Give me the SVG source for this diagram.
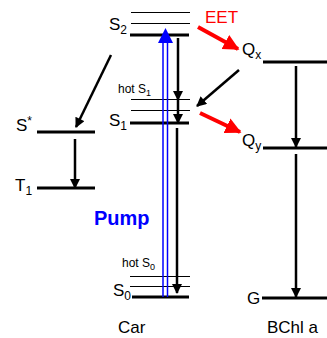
<svg xmlns="http://www.w3.org/2000/svg" width="327" height="338" viewBox="0 0 327 338">
<defs>
<marker id="ah" viewBox="0 0 10 10" refX="9" refY="5" markerWidth="4.2" markerHeight="4" markerUnits="strokeWidth" orient="auto"><path d="M0,0 L10,5 L0,10 Z" fill="#000"/></marker>
<marker id="ahr" viewBox="0 0 10 10" refX="9" refY="5" markerWidth="4" markerHeight="4.2" markerUnits="strokeWidth" orient="auto"><path d="M0,0 L10,5 L0,10 Z" fill="#ff0000"/></marker>
</defs>
<style>
text{font-family:"Liberation Sans",Arial,sans-serif;fill:#000}
.lab{font-size:17px}
.sm{font-size:12px}
.sub{font-size:12px}
.thick{stroke:#000;stroke-width:3;fill:none}
.thin{stroke:#000;stroke-width:1;fill:none}
.arr{stroke:#000;stroke-width:2.5;fill:none;marker-end:url(#ah)}
.red{stroke:#ff0000;stroke-width:4;fill:none;marker-end:url(#ahr)}
</style>
<rect width="327" height="338" fill="#fff"/>
<g id="car-S2">
<line class="thin" x1="131" y1="12.5" x2="190" y2="12.5"/>
<line class="thin" x1="131" y1="23.5" x2="190" y2="23.5"/>
<line class="thick" x1="130" y1="35" x2="189" y2="35"/>
<text class="lab" x="109" y="30">S<tspan class="sub" dy="4">2</tspan></text>
</g>
<g id="car-S1">
<line class="thin" x1="131" y1="99.5" x2="190" y2="99.5"/>
<line class="thin" x1="131" y1="110.5" x2="190" y2="110.5"/>
<line class="thick" x1="130" y1="123" x2="189" y2="123"/>
<text class="sm" x="118" y="93">hot S<tspan font-size="9" dy="3">1</tspan></text>
<text class="lab" x="109" y="126">S<tspan class="sub" dy="4">1</tspan></text>
</g>
<g id="car-S0">
<line class="thin" x1="130" y1="276.5" x2="190" y2="276.5"/>
<line class="thin" x1="130" y1="286.5" x2="190" y2="286.5"/>
<line class="thick" x1="132" y1="297" x2="189" y2="297"/>
<text class="sm" x="122" y="267">hot S<tspan font-size="9" dy="3">0</tspan></text>
<text class="lab" x="113" y="296">S<tspan class="sub" dy="4">0</tspan></text>
<text class="lab" x="118" y="333">Car</text>
</g>
<g id="Sstar">
<line class="thick" x1="37" y1="132" x2="95" y2="132"/>
<text class="lab" x="16" y="131">S<tspan font-size="12" dy="-6">*</tspan></text>
</g>
<g id="T1">
<line class="thick" x1="37" y1="188" x2="95" y2="188"/>
<text class="lab" x="15" y="191">T<tspan class="sub" dy="4">1</tspan></text>
</g>
<g id="Qx">
<line class="thick" x1="263" y1="62" x2="327" y2="62"/>
<text class="lab" x="242" y="55">Q<tspan class="sub" dy="4">x</tspan></text>
</g>
<g id="Qy">
<line class="thick" x1="263" y1="148" x2="327" y2="148"/>
<text class="lab" x="242" y="146">Q<tspan class="sub" dy="4">y</tspan></text>
</g>
<g id="G">
<line class="thick" x1="262" y1="298" x2="327" y2="298"/>
<text class="lab" x="247" y="304">G</text>
<text class="lab" x="267" y="333">BChl a</text>
</g>
<g id="connectors">
<line class="arr" x1="178" y1="38" x2="178" y2="100"/>
<line class="arr" x1="178" y1="99" x2="178" y2="123"/>
<line class="arr" x1="177" y1="128" x2="177" y2="293"/>
<line class="arr" x1="111" y1="55" x2="76" y2="127"/>
<line class="arr" x1="75" y1="139" x2="75" y2="188"/>
<line class="arr" x1="239" y1="70" x2="197" y2="106"/>
<line class="arr" x1="296" y1="66" x2="296" y2="147"/>
<line class="arr" x1="296" y1="154" x2="296" y2="297"/>
<line class="red" x1="198" y1="27" x2="238" y2="49"/>
<line class="red" x1="200" y1="113" x2="240" y2="132"/>
<g id="pump">
<line x1="163" y1="42" x2="163" y2="297" stroke="#0000ff" stroke-width="1.5"/>
<line x1="167.5" y1="42" x2="167.5" y2="297" stroke="#0000ff" stroke-width="1.5"/>
<path d="M165.5,28 L173,43 L158,43 Z" fill="#0000ff"/>
</g>
</g>
<text x="94" y="225" font-size="20" font-weight="bold" style="fill:#0000ff">Pump</text>
<text x="205" y="23" font-size="17" style="fill:#ff0000">EET</text>
</svg>
